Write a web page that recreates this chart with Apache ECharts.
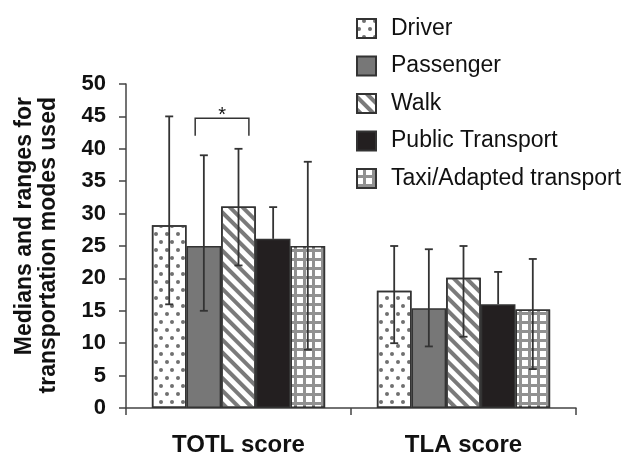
<!DOCTYPE html>
<html>
<head>
<meta charset="utf-8">
<script src="https://cdn.jsdelivr.net/npm/echarts@6/dist/echarts.min.js"></script>
<style>
  html, body { margin: 0; padding: 0; background: #fff; }
  #chart { width: 627px; height: 457px; }
</style>
</head>
<body>
<div id="chart"></div>
<script>
// values
let categories = ['TOTL score', 'TLA score'];
let modes = ['Driver', 'Passenger', 'Walk', 'Public Transport', 'Taxi/Adapted transport'];
let medians = [
  [28.2, 18.1],
  [25, 15.4],
  [31.1, 20.1],
  [26.1, 16],
  [25, 15.2]
];
let rangeHigh = [
  [45, 25],
  [39, 24.5],
  [40, 25],
  [31, 21],
  [38, 23]
];
// lower end hidden inside the black bars
let rangeLow = [
  [16, 10],
  [15, 9.5],
  [22, 11],
  [null, null],
  [9, 6]
];
let yTicks = {min: 0, max: 50, step: 5};
// significance bracket: category, from mode, to mode, level, leg end
let signif = [[0, 1, 2, 44.7, 42]];

const FONT = 'Liberation Sans, Arial, sans-serif';
const GAP = 0.23;
const edge = '#333';

let looks = [
  {color: '#fff', decal: {symbol: 'circle', symbolSize: 1, color: '#707070',
    dashArrayX: [[3.2, 6.8], [0, 5, 3.2, 1.8]], dashArrayY: [3.2, 3.5]}},
  {color: '#777'},
  {color: '#fff', decal: {symbol: 'rect', symbolSize: 1, color: '#7a7a7a',
    dashArrayX: [1, 0], dashArrayY: [3.6, 4.2], rotation: Math.PI / 4}},
  {color: '#231f20'},
  {color: '#919191', decal: {symbol: 'rect', symbolSize: 1, color: '#fff',
    dashArrayX: [5.6, 2.6], dashArrayY: [5.6, 2.6]}}
];

let myChart = echarts.init(document.getElementById('chart'));

function barCenter(api, cat, s) {
  let band = api.size([1, 0])[0];
  let groupW = band * (1 - GAP);
  let barW = groupW / modes.length;
  return {x: api.coord([cat, 0])[0] - groupW / 2 + (s + 0.5) * barW, w: barW};
}

let series = [];
for (let i = 0; i < modes.length; i++) {
  series.push({
    name: modes[i],
    type: 'bar',
    barGap: '0%',
    barCategoryGap: (GAP * 100) + '%',
    itemStyle: Object.assign({borderColor: edge, borderWidth: 1.5}, looks[i]),
    emphasis: {disabled: true},
    data: medians[i]
  });
}

let errData = [];
for (let i = 0; i < modes.length; i++) {
  for (let c = 0; c < categories.length; c++) {
    let lo = rangeLow[i][c];
    errData.push([c, i, lo == null ? medians[i][c] : lo, rangeHigh[i][c], lo == null ? 0 : 1]);
  }
}

series.push({
  type: 'custom',
  z: 5,
  silent: true,
  encode: {x: 0, y: [2, 3]},
  data: errData,
  renderItem: function (params, api) {
    let b = barCenter(api, api.value(0), api.value(1));
    let yLo = api.coord([api.value(0), api.value(2)])[1];
    let yHi = api.coord([api.value(0), api.value(3)])[1];
    let cap = 4;
    let st = {stroke: edge, lineWidth: 1.8};
    let kids = [
      {type: 'line', shape: {x1: b.x, y1: yLo, x2: b.x, y2: yHi}, style: st},
      {type: 'line', shape: {x1: b.x - cap, y1: yHi, x2: b.x + cap, y2: yHi}, style: st}
    ];
    if (api.value(4)) {
      kids.push({type: 'line', shape: {x1: b.x - cap, y1: yLo, x2: b.x + cap, y2: yLo}, style: st});
    }
    return {type: 'group', children: kids};
  }
});

series.push({
  type: 'custom',
  z: 5,
  silent: true,
  encode: {x: 0, y: [3, 4]},
  data: signif,
  renderItem: function (params, api) {
    let c = api.value(0);
    let a = barCenter(api, c, api.value(1));
    let b = barCenter(api, c, api.value(2));
    let x1 = a.x - a.w * 0.25;
    let x2 = b.x + b.w * 0.3;
    let yTop = api.coord([c, api.value(3)])[1];
    let yLeg = api.coord([c, api.value(4)])[1];
    let st = {stroke: edge, lineWidth: 1.5, fill: null};
    return {type: 'group', children: [
      {type: 'polyline', shape: {points: [[x1, yLeg], [x1, yTop], [x2, yTop], [x2, yLeg]]}, style: st},
      {type: 'text', x: (x1 + x2) / 2, y: yTop + 7,
        style: {text: '*', fontSize: 20, fontFamily: FONT, fill: '#111',
          textAlign: 'center', textVerticalAlign: 'bottom'}}
    ]};
  }
});

let option = {
  animation: false,
  backgroundColor: '#fff',
  textStyle: {fontFamily: FONT},
  grid: {left: 126, right: 51, top: 84, bottom: 48, containLabel: false},
  legend: {
    data: modes,
    orient: 'vertical',
    left: 351,
    top: 12,
    itemWidth: 19,
    itemHeight: 19,
    itemGap: 14.5,
    icon: 'rect',
    selectedMode: false,
    textStyle: {fontSize: 23, color: '#111', fontFamily: FONT, lineHeight: 22, padding: [0, 0, 0, 10]}
  },
  xAxis: {
    type: 'category',
    data: categories,
    axisLine: {lineStyle: {color: '#444', width: 1.5}},
    axisTick: {show: true, length: 7, lineStyle: {color: '#444', width: 1.5}},
    axisLabel: {fontSize: 24, fontWeight: 'bold', color: '#111', margin: 25}
  },
  yAxis: {
    type: 'value',
    min: yTicks.min,
    max: yTicks.max,
    interval: yTicks.step,
    splitLine: {show: false},
    axisLine: {show: true, lineStyle: {color: '#444', width: 1.5}},
    axisTick: {show: true, length: 7, lineStyle: {color: '#444', width: 1.5}},
    axisLabel: {fontSize: 22, fontWeight: 'bold', color: '#111', margin: 20}
  },
  graphic: [
    {type: 'text', x: 25, y: 97, rotation: Math.PI / 2,
      style: {text: 'Medians and ranges for', fontSize: 23, fontWeight: 'bold', fontFamily: FONT,
        fill: '#111', textAlign: 'right', textVerticalAlign: 'middle'}},
    {type: 'text', x: 49, y: 97, rotation: Math.PI / 2,
      style: {text: 'transportation modes used', fontSize: 23, fontWeight: 'bold', fontFamily: FONT,
        fill: '#111', textAlign: 'right', textVerticalAlign: 'middle'}}
  ],
  series: series
};
myChart.setOption(option);
</script>
</body>
</html>
